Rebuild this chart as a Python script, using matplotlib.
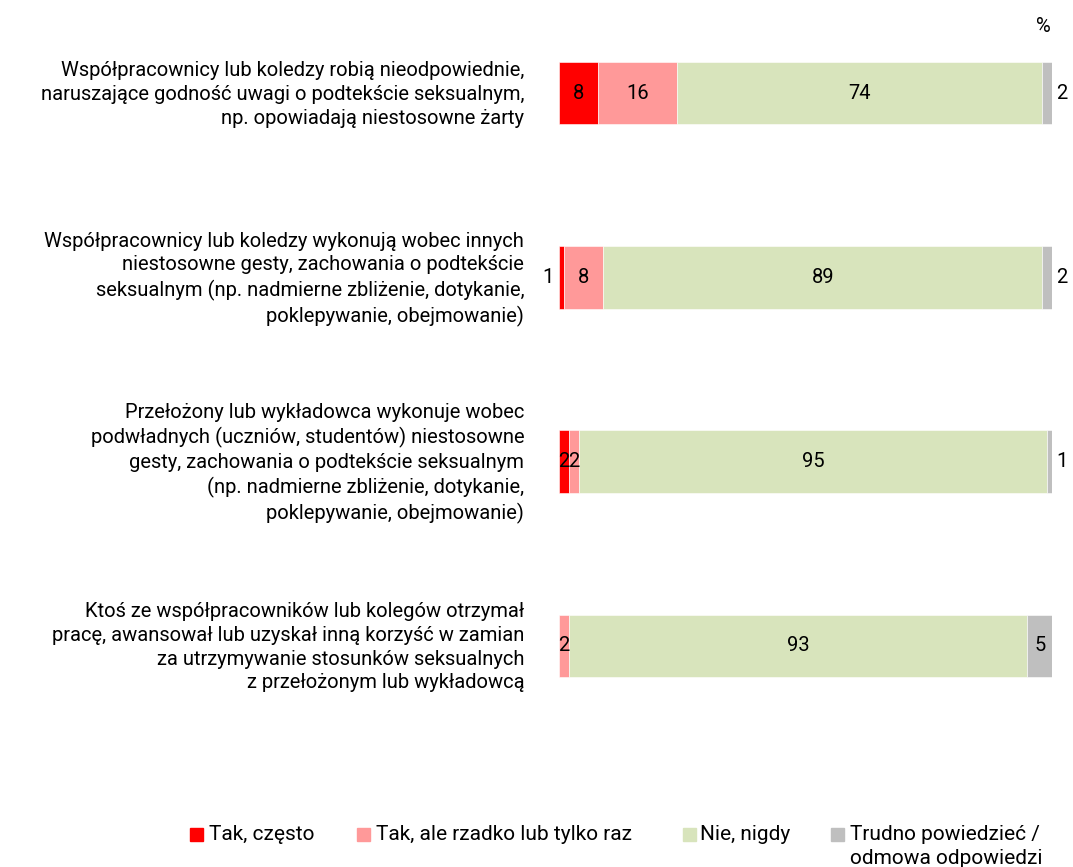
import matplotlib.pyplot as plt
import matplotlib.patches as mpatches
import matplotlib.transforms as mtransforms

plt.rcParams["font.family"] = ["Roboto", "DejaVu Sans"]

categories = [
    "Współpracownicy lub koledzy robią nieodpowiednie,\nnaruszające godność uwagi o podtekście seksualnym,\nnp. opowiadają niestosowne żarty",
    "Współpracownicy lub koledzy wykonują wobec innych\nniestosowne gesty, zachowania o podtekście\nseksualnym (np. nadmierne zbliżenie, dotykanie,\npoklepywanie, obejmowanie)",
    "Przełożony lub wykładowca wykonuje wobec\npodwładnych (uczniów, studentów) niestosowne\ngesty, zachowania o podtekście seksualnym\n(np. nadmierne zbliżenie, dotykanie,\npoklepywanie, obejmowanie)",
    "Ktoś ze współpracowników lub kolegów otrzymał\npracę, awansował lub uzyskał inną korzyść w zamian\nza utrzymywanie stosunków seksualnych\nz przełożonym lub wykładowcą",
]
series_names = ["Tak, często", "Tak, ale rzadko lub tylko raz", "Nie, nigdy",
                "Trudno powiedzieć /\nodmowa odpowiedzi"]
often = [8, 1, 2, 0]
rarely = [16, 8, 2, 2]
never = [74, 89, 95, 93]
hard_to_say = [2, 2, 1, 5]
colors = ["#FF0000", "#FF9999", "#D8E4BC", "#BFBFBF"]

series = [often, rarely, never, hard_to_say]
FS = 14.5

fig = plt.figure(figsize=(10.73, 8.67), dpi=100)
ax = fig.add_axes([559 / 1073, 1 - 738 / 867, 493 / 1073, 737 / 867])

ypos = list(range(len(categories)))
left = [0] * len(categories)
for s_idx, (vals, col) in enumerate(zip(series, colors)):
    ax.barh(ypos, vals, left=left, height=0.34, color=col, edgecolor="white", linewidth=0.4)
    for i, v in enumerate(vals):
        if v == 0:
            continue
        x_mid = left[i] + v / 2
        if s_idx == 3 and v <= 2:
            ax.text(left[i] + v + 0.9, i, str(v), ha="left", va="center", fontsize=FS)
        elif s_idx == 0 and v <= 1:
            ax.text(left[i] - 1.0, i, str(v), ha="right", va="center", fontsize=FS)
        else:
            ax.text(x_mid, i, str(v), ha="center", va="center", fontsize=FS)
    left = [l + v for l, v in zip(left, vals)]

ax.set_xlim(0, 100)
ax.set_ylim(3.5, -0.5)
ax.set_yticks(ypos)
ax.set_yticklabels(categories, fontsize=FS, linespacing=1.32)
ax.tick_params(axis="y", length=0, pad=25)
ax.set_xticks([])
for sp in ax.spines.values():
    sp.set_visible(False)

# nudge the category labels up a little
shift = mtransforms.ScaledTranslation(0, 3 / 100, fig.dpi_scale_trans)
for lab in ax.get_yticklabels():
    lab.set_transform(lab.get_transform() + shift)

fig.text(1043 / 1073, 1 - 27 / 867, "%", ha="center", va="center", fontsize=FS)

# legend drawn by hand so the single-line entries line up with the first line of the last one
marker_x = [190, 357, 683, 831]
text_x = [209, 376, 700, 850]
leg_y = 834
for mx, tx, c, n in zip(marker_x, text_x, colors, series_names):
    fig.patches.append(mpatches.Rectangle((mx / 1073, 1 - (leg_y + 6.5) / 867), 13 / 1073, 13 / 867,
                                          transform=fig.transFigure, color=c, figure=fig))
    fig.text(tx / 1073, 1 - (leg_y - 9) / 867, n, ha="left", va="top", fontsize=15,
             linespacing=1.35)

fig.savefig("out.png", dpi=100)
